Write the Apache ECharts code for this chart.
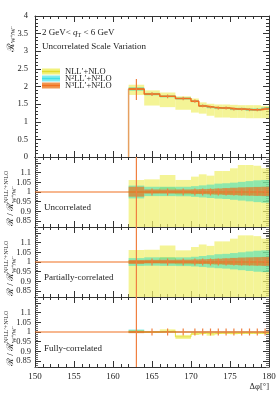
<!DOCTYPE html>
<html><head><meta charset="utf-8">
<script src="https://cdn.jsdelivr.net/npm/echarts@6/dist/echarts.min.js"></script>
<style>html,body{margin:0;padding:0;background:#fff}#c{width:279px;height:393px}</style>
</head><body><div id="c"></div>
<script>
// ---------------- data ----------------
const binEdges   = [162,164,166,168,170,171,172,173,174,175,176,177,178,179,180];
const binCenters = [163,165,167,169,170.5,171.5,172.5,173.5,174.5,175.5,176.5,177.5,178.5,179.5];

// top panel (absolute R_{W+/W-})
const topCentral  = [1.93,1.785,1.72,1.66,1.585,1.45,1.415,1.39,1.39,1.36,1.36,1.34,1.34,1.37];
const topYellowHi = [2.05,1.89,1.83,1.72,1.66,1.55,1.51,1.49,1.49,1.48,1.47,1.47,1.47,1.45];
const topYellowLo = [1.76,1.46,1.415,1.34,1.26,1.23,1.17,1.12,1.12,1.11,1.11,1.10,1.10,1.10];
const topTealHi   = [1.98,1.82,1.75,1.69,1.61,1.48,1.445,1.42,1.42,1.395,1.395,1.38,1.38,1.41];
const topTealLo   = [1.88,1.75,1.69,1.63,1.555,1.42,1.385,1.36,1.36,1.33,1.33,1.31,1.31,1.34];
const topOrangeHi = [1.96,1.80,1.735,1.675,1.60,1.465,1.43,1.405,1.405,1.375,1.375,1.355,1.355,1.385];
const topOrangeLo = [1.90,1.77,1.705,1.645,1.57,1.435,1.40,1.375,1.375,1.345,1.345,1.325,1.325,1.355];
const topErrLo    = [1.62,1.73,1.67,1.61,1.54,1.41,1.38,1.35,1.35,1.32,1.32,1.30,1.30,1.33];
const topErrHi    = [2.21,1.84,1.77,1.71,1.63,1.49,1.45,1.43,1.43,1.40,1.40,1.38,1.38,1.41];

// ratio panel: uncorrelated
const unYellowHi = [1.062,1.065,1.087,1.062,1.079,1.091,1.084,1.108,1.108,1.122,1.139,1.139,1.135,1.122];
const unYellowLo = [0.79,0.79,0.79,0.79,0.79,0.79,0.79,0.79,0.79,0.79,0.79,0.79,0.79,0.79];
const unYellowC  = [1.0,0.998,1.02,0.99,0.992,0.995,0.99,0.992,0.992,0.99,0.99,0.99,0.99,0.99];
const unTealHi   = [1.033,1.027,1.027,1.027,1.03,1.034,1.038,1.043,1.045,1.048,1.052,1.056,1.06,1.062];
const unTealLo   = [0.967,0.979,0.979,0.978,0.975,0.972,0.969,0.966,0.964,0.96,0.956,0.952,0.948,0.945];
const unOrangeHi = [1.027,1.013,1.013,1.013,1.014,1.015,1.016,1.018,1.02,1.022,1.024,1.025,1.026,1.027];
const unOrangeLo = [0.976,0.992,0.992,0.992,0.99,0.989,0.988,0.987,0.985,0.984,0.982,0.981,0.98,0.979];

// ratio panel: partially-correlated
const paYellowHi = [1.062,1.063,1.085,1.06,1.077,1.09,1.083,1.106,1.106,1.12,1.137,1.137,1.133,1.12];
const paYellowLo = [0.79,0.79,0.79,0.79,0.79,0.79,0.79,0.79,0.79,0.79,0.79,0.79,0.79,0.79];
const paYellowC  = [1.0,0.998,1.02,0.99,0.992,0.995,0.99,0.992,0.992,0.99,0.99,0.99,0.99,0.99];
const paTealHi   = [1.02,1.024,1.024,1.024,1.027,1.031,1.035,1.04,1.042,1.046,1.05,1.054,1.058,1.06];
const paTealLo   = [0.98,0.981,0.98,0.979,0.977,0.974,0.971,0.968,0.966,0.962,0.958,0.954,0.95,0.948];
const paOrangeHi = [1.01,1.011,1.012,1.012,1.013,1.014,1.015,1.017,1.019,1.021,1.023,1.024,1.025,1.026];
const paOrangeLo = [0.99,0.993,0.992,0.992,0.991,0.99,0.989,0.988,0.986,0.985,0.983,0.982,0.981,0.98];

// ratio panel: fully-correlated
const fuYellowHi = [1.01,1.005,1.014,0.985,0.998,0.998,0.996,0.998,0.998,0.998,0.998,0.998,0.998,0.998];
const fuYellowLo = [0.995,0.995,0.997,0.964,0.985,0.99,0.981,0.99,0.99,0.988,0.99,0.99,0.99,0.99];
const fuYellowC  = [1.0,1.0,1.005,0.975,0.99,0.994,0.99,0.994,0.994,0.993,0.994,0.994,0.994,0.994];
const fuTealHi   = [1.013,1.004,1.004,1.003,1.003,1.003,1.003,1.003,1.003,1.003,1.003,1.003,1.003,1.003];
const fuTealLo   = [0.995,0.997,0.997,0.997,0.997,0.997,0.997,0.997,0.997,0.997,0.997,0.997,0.997,0.997];
const fuOrangeHi = [1.006,1.003,1.003,1.003,1.003,1.003,1.003,1.003,1.003,1.003,1.003,1.003,1.003,1.003];
const fuOrangeLo = [0.994,0.997,0.997,0.997,0.997,0.997,0.997,0.997,0.997,0.997,0.997,0.997,0.997,0.997];

// ratio error bars (same for all ratio panels)
const ratioErrLo = [0.70,0.982,0.982,0.982,0.982,0.982,0.982,0.982,0.982,0.982,0.982,0.982,0.982,0.982];
const ratioErrHi = [1.30,1.018,1.018,1.018,1.018,1.018,1.018,1.018,1.018,1.018,1.018,1.018,1.018,1.018];

const xTicks = [150,155,160,165,170,175,180];
const topYTicks = [0,0.5,1,1.5,2,2.5,3,3.5,4];
const ratioLabels = [0.85,0.9,0.95,1,1.05,1.1];
const ratioMajorTicks = [0.85,0.9,0.95,1,1.05,1.1,1.15];
const legendNames = ["NLL\u2032+NLO","N\u00b2LL\u2032+N\u00b2LO","N\u00b3LL\u2032+N\u00b2LO"];
const panelNames = ["Uncorrelated","Partially-correlated","Fully-correlated"];

// ---------------- style ----------------
const FONT = "'Liberation Serif', serif";
const C_YEL = 'rgba(240,240,110,0.72)';
const C_YEL_LINE = '#e6e040';
const C_TEAL = 'rgba(0,215,200,0.42)';
const C_OR = 'rgba(235,110,25,0.65)';
const C_OR_LINE = '#f07020';
const AX = '#333';

const chart = echarts.init(document.getElementById('c'), null, {renderer:'canvas'});

const L = 35, W = 234;
const tops = [16,157,227,297];
const heights = [141,70,70,70];
const grid = tops.map((t,i)=>({left:L, top:t, width:W, height:heights[i]}));

const xAxis = [];
const yAxis = [];
for (let g=0; g<4; g++) {
  ['bottom','top'].forEach(pos=>{
    xAxis.push({
      type:'value', gridIndex:g, position:pos, min:xTicks[0], max:xTicks[xTicks.length-1], interval:5,
      axisLine:{show:true, onZero:false, lineStyle:{color:AX, width:1}},
      axisTick:{show:true, inside:true, length:6, lineStyle:{color:AX}},
      minorTick:{show:true, splitNumber:5, length:3, lineStyle:{color:AX}},
      splitLine:{show:false},
      axisLabel:{show:(g===3 && pos==='bottom'), fontFamily:FONT, fontSize:9, color:'#222', margin:5,
                 customValues:xTicks}
    });
  });
}
const yIdx = [];
for (let g=0; g<4; g++) {
  if (g===0) {
    ['left','right'].forEach(pos=>{
      yAxis.push({
        type:'value', gridIndex:g, position:pos, min:0, max:4, interval:0.5,
        axisLine:{show:true, onZero:false, lineStyle:{color:AX}},
        axisTick:{show:true, inside:true, length:6, lineStyle:{color:AX}},
        minorTick:{show:true, splitNumber:5, length:3, lineStyle:{color:AX}},
        splitLine:{show:false},
        axisLabel:{show:pos==='left', fontFamily:FONT, fontSize:8.5, color:'#222', margin:7,
                   showMinLabel:true, showMaxLabel:true, customValues:topYTicks}
      });
    });
    yIdx.push(0);
  } else {
    ['left','right'].forEach(pos=>{
      yAxis.push({
        type:'value', gridIndex:g, position:pos, min:0.82, max:1.18, interval:0.01,
        axisLine:{show:true, onZero:false, lineStyle:{color:AX}},
        axisTick:{show:true, inside:true, length:3, lineStyle:{color:'#666'}},
        splitLine:{show:false}, axisLabel:{show:false}
      });
    });
    yIdx.push(yAxis.length);
    ['left','right'].forEach(pos=>{
      yAxis.push({
        type:'value', gridIndex:g, position:pos, min:0.82, max:1.18,
        axisLine:{show:false},
        axisTick:{show:true, inside:true, length:6, lineStyle:{color:AX}, customValues:ratioMajorTicks},
        splitLine:{show:false},
        axisLabel:{show:pos==='left', fontFamily:FONT, fontSize:8.5, color:'#222', margin:4,
                   customValues:ratioLabels}
      });
    });
  }
}

function bandSeries(g, lo, hi, color, z) {
  const data = lo.map((v,i)=>[binEdges[i], binEdges[i+1], v, hi[i]]);
  return {
    type:'custom', xAxisIndex:2*g, yAxisIndex:yIdx[g], z:z, clip:true, silent:true,
    data:data,
    renderItem:(params, api)=>{
      const p0 = api.coord([api.value(0), api.value(3)]);
      const p1 = api.coord([api.value(1), api.value(2)]);
      return {type:'rect', shape:{x:p0[0], y:p0[1], width:p1[0]-p0[0], height:p1[1]-p0[1]},
              style:{fill:color}};
    }
  };
}
function stepSeries(g, vals, color, width, z) {
  const data = [];
  vals.forEach((v,i)=>data.push([binEdges[i], v]));
  data.push([binEdges[binEdges.length-1], vals[vals.length-1]]);
  return {type:'line', xAxisIndex:2*g, yAxisIndex:yIdx[g], step:'end', data:data, z:z,
          showSymbol:false, symbol:'none', silent:true, clip:true,
          lineStyle:{color:color, width:width}};
}
function errSeries(g, lo, hi, color, z) {
  const data = lo.map((v,i)=>[binCenters[i], v, hi[i]]);
  return {
    type:'custom', xAxisIndex:2*g, yAxisIndex:yIdx[g], z:z, clip:true, silent:true, data:data,
    renderItem:(params, api)=>{
      const a = api.coord([api.value(0), api.value(1)]);
      const b = api.coord([api.value(0), api.value(2)]);
      return {type:'line', shape:{x1:a[0], y1:a[1], x2:b[0], y2:b[1]},
              style:{stroke:color, lineWidth:1.2}};
    }
  };
}
function hline(g, y, color, z) {
  return {type:'line', xAxisIndex:2*g, yAxisIndex:yIdx[g], data:[[xTicks[0],y],[xTicks[xTicks.length-1],y]],
          showSymbol:false, symbol:'none', silent:true, z:z, lineStyle:{color:color, width:1.2}};
}

const series = [];
series.push(bandSeries(0, topYellowLo, topYellowHi, C_YEL, 1));
series.push(bandSeries(0, topTealLo, topTealHi, C_TEAL, 2));
series.push(bandSeries(0, topOrangeLo, topOrangeHi, C_OR, 3));
series.push({type:'line', xAxisIndex:0, yAxisIndex:0, data:[[binEdges[0],0],[binEdges[0],topCentral[0]]],
             showSymbol:false, symbol:'none', silent:true, z:4, lineStyle:{color:'#e6a060', width:1.5}});
series.push(stepSeries(0, topCentral, C_OR_LINE, 1.5, 5));
series.push(errSeries(0, topErrLo, topErrHi, '#f08040', 6));

const ratioSets = [
  [unYellowLo,unYellowHi,unYellowC,unTealLo,unTealHi,unOrangeLo,unOrangeHi],
  [paYellowLo,paYellowHi,paYellowC,paTealLo,paTealHi,paOrangeLo,paOrangeHi],
  [fuYellowLo,fuYellowHi,fuYellowC,fuTealLo,fuTealHi,fuOrangeLo,fuOrangeHi],
];
ratioSets.forEach((s, k)=>{
  const g = k+1;
  series.push(bandSeries(g, s[0], s[1], C_YEL, 1));
  series.push(stepSeries(g, s[2], C_YEL_LINE, 1, 2));
  series.push(bandSeries(g, s[3], s[4], C_TEAL, 3));
  series.push(bandSeries(g, s[5], s[6], C_OR, 4));
  series.push(hline(g, 1, C_OR_LINE, 5));
  series.push(errSeries(g, ratioErrLo, ratioErrHi, '#f08040', 6));
});

// ---------------- texts / legend ----------------
const graphic = [];
const tStyle = (extra)=>Object.assign({fontFamily:FONT, fontSize:9, fill:'#222'}, extra);
graphic.push({type:'text', x:42, y:33, style:tStyle({
  text:'2 GeV< {i|q}{s|T} < 6 GeV', verticalAlign:'middle',
  rich:{i:{fontFamily:FONT, fontSize:9, fontStyle:'italic', fill:'#222'},
        s:{fontFamily:FONT, fontSize:6, fill:'#222', verticalAlign:'bottom', padding:[4,0,0,0]}}})});
graphic.push({type:'text', x:42, y:46.5, style:tStyle({text:'Uncorrelated Scale Variation', verticalAlign:'middle'})});

const legY = [71.5, 78.5, 85.5];
const legFill = ['rgba(240,240,110,0.9)','rgba(0,215,225,0.5)','rgba(240,140,60,0.9)'];
const legLine = ['#e0dc30','#40e0e8','#f07020'];
legendNames.forEach((n,i)=>{
  graphic.push({type:'rect', shape:{x:42, y:legY[i]-3, width:18, height:6}, style:{fill:legFill[i]}});
  graphic.push({type:'line', shape:{x1:42, y1:legY[i], x2:60, y2:legY[i]}, style:{stroke:legLine[i], lineWidth:1.5}});
});
graphic.push({type:'text', x:65, y:legY[0], style:tStyle({text:'NLL\u2032+NLO', verticalAlign:'middle', fontSize:8.5})});
graphic.push({type:'text', x:65, y:legY[1], style:tStyle({text:'N{u|2}LL\u2032+N{u|2}LO', verticalAlign:'middle', fontSize:8.5,
  rich:{u:{fontFamily:FONT, fontSize:6, fill:'#222', verticalAlign:'top', padding:[0,0,3,0]}}})});
graphic.push({type:'text', x:65, y:legY[2], style:tStyle({text:'N{u|3}LL\u2032+N{u|2}LO', verticalAlign:'middle', fontSize:8.5,
  rich:{u:{fontFamily:FONT, fontSize:6, fill:'#222', verticalAlign:'top', padding:[0,0,3,0]}}})});

const pnY = [208, 278, 349];
panelNames.forEach((n,i)=>{
  graphic.push({type:'text', x:44, y:pnY[i], style:tStyle({text:n, verticalAlign:'middle'})});
});

graphic.push({type:'text', x:269, y:387, style:tStyle({text:'\u0394\u03c6[\u00b0]', align:'right', verticalAlign:'middle', fontSize:8.5})});

const rot = Math.PI/2;
graphic.push({type:'text', x:11, y:52, rotation:rot, style:tStyle({text:'\u211b', align:'left', verticalAlign:'middle', fontSize:10})});
graphic.push({type:'text', x:13.5, y:43, rotation:rot, style:tStyle({text:'W\u207a/W\u207b', align:'left', verticalAlign:'middle', fontSize:6})});
[157,227,297].forEach(t=>{
  graphic.push({type:'text', x:11, y:t+69, rotation:rot, style:tStyle({text:'\u211b / \u211b', align:'left', verticalAlign:'middle', fontSize:9})});
  graphic.push({type:'text', x:6.5, y:t+46, rotation:rot, style:tStyle({text:'N\u00b3LL\u2032+N\u00b2LO', align:'left', verticalAlign:'middle', fontSize:6})});
  graphic.push({type:'text', x:14.5, y:t+46, rotation:rot, style:tStyle({text:'W\u207a/W\u207b', align:'left', verticalAlign:'middle', fontSize:6})});
});

chart.setOption({
  animation:false,
  backgroundColor:'#fff',
  grid:grid, xAxis:xAxis, yAxis:yAxis, series:series, graphic:graphic
});
</script></body></html>
